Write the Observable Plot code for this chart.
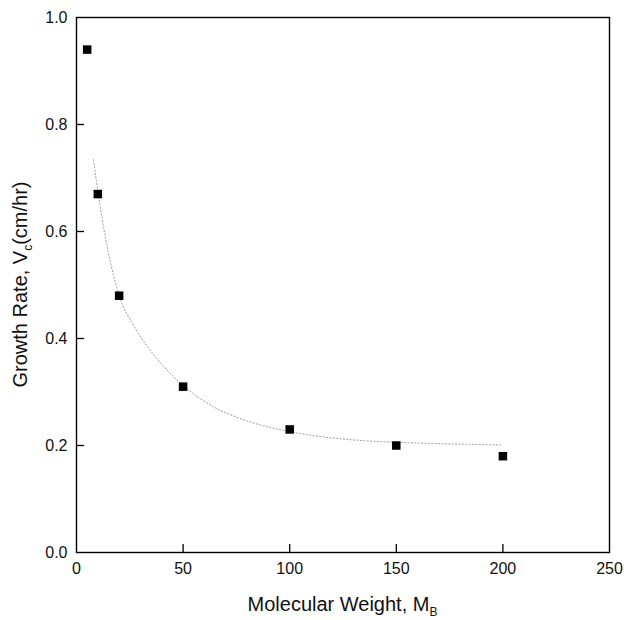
<!DOCTYPE html>
<html>
<head>
<meta charset="utf-8">
<script src="https://cdn.jsdelivr.net/npm/d3@7"></script>
<script src="https://cdn.jsdelivr.net/npm/@observablehq/plot@0.6"></script>
<style>
  html, body { margin: 0; padding: 0; background: #fff; }
  #chart svg { display: block; }
</style>
</head>
<body>
<div id="chart"></div>
<script>
// Measured data points
const molWeight = [5, 10, 20, 50, 100, 150, 200];
const growthRate = [0.94, 0.67, 0.48, 0.31, 0.23, 0.20, 0.18];

// Fitted curve
const curveX = [8, 10, 14, 20, 27, 34, 42, 50, 64, 80, 100, 120, 135, 150, 175, 199];
const curveY = [0.734, 0.675, 0.58, 0.48, 0.423, 0.381, 0.343, 0.312, 0.273, 0.246, 0.226, 0.214, 0.209, 0.206, 0.203, 0.201];

const xTicks = [0, 50, 100, 150, 200, 250];
const yTicks = [0.0, 0.2, 0.4, 0.6, 0.8, 1.0];

const points = molWeight.map((x, i) => ({x, y: growthRate[i]}));
const curve = curveX.map((x, i) => ({x, y: curveY[i]}));

const W = 624, H = 620;
const mL = 76, mR = 15, mT = 17, mB = 68;
const innerW = W - mL - mR, innerH = H - mT - mB;
const font = "'Liberation Sans', Arial, sans-serif";

const plot = Plot.plot({
  width: W,
  height: H,
  marginLeft: mL,
  marginRight: mR,
  marginTop: mT,
  marginBottom: mB,
  style: {fontFamily: font, fontSize: "16px", color: "#111", background: "#fff"},
  x: {domain: [0, 250], ticks: xTicks},
  y: {domain: [0, 1], ticks: yTicks},
  marks: [
    Plot.axisX(xTicks, {tickSize: 0, tickPadding: 10, fontSize: 16, label: null, fill: "#111"}),
    Plot.axisY(yTicks, {tickSize: 0, tickPadding: 9, fontSize: 16, label: null, tickFormat: d3.format(".1f"), fill: "#111"}),
    Plot.ruleX(xTicks.slice(1, -1), {x: d => d, insetTop: innerH - 8, stroke: "#000", strokeWidth: 1.3}),
    Plot.ruleY(yTicks.slice(1, -1), {y: d => d, insetRight: innerW - 8, stroke: "#000", strokeWidth: 1.3}),
    Plot.line(curve, {x: "x", y: "y", curve: "monotone-x", stroke: "#9a9a9a", strokeWidth: 1, strokeDasharray: "1.2,2.2"}),
    Plot.dot(points, {x: "x", y: "y", symbol: "square", r: 4.8, fill: "#000", stroke: "none"}),
    Plot.frame({stroke: "#000", strokeWidth: 1.4})
  ]
});

document.getElementById("chart").appendChild(plot);

// Axis titles with subscripts
const svg = d3.select(plot);
const xl = svg.append("text")
  .attr("x", mL + innerW / 2)
  .attr("y", 611)
  .attr("text-anchor", "middle")
  .attr("font-family", font)
  .attr("font-size", 20)
  .attr("fill", "#111");
xl.append("tspan").text("Molecular Weight, M");
xl.append("tspan").attr("font-size", 12).attr("dy", 5).text("B");

const yl = svg.append("text")
  .attr("transform", `translate(27,${mT + innerH / 2}) rotate(-90)`)
  .attr("text-anchor", "middle")
  .attr("font-family", font)
  .attr("font-size", 20)
  .attr("fill", "#111");
yl.append("tspan").text("Growth Rate, V");
yl.append("tspan").attr("font-size", 12).attr("dy", 5).text("c");
yl.append("tspan").attr("dy", -5).text("(cm/hr)");
</script>
</body>
</html>
